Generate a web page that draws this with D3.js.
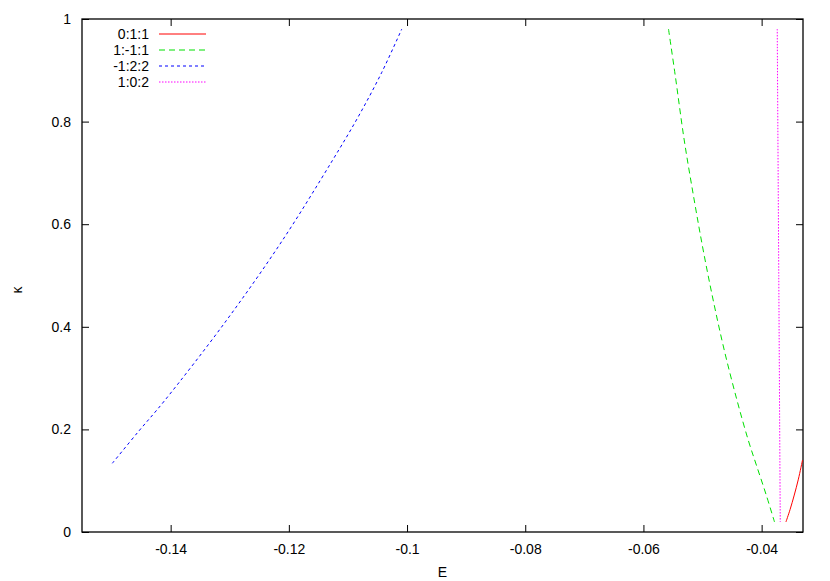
<!DOCTYPE html>
<html>
<head>
    <script src="https://d3js.org/d3.v7.min.js"></script>
    <style>
        body { margin: 0; background: #fff; }
        text { font-family: "Liberation Sans", Arial, sans-serif; }
    </style>
</head>
<body>
    <svg width="830" height="581"></svg>

    <script>
        // Series: E values and kappa values
        const names = ["0:1:1", "1:-1:1", "-1:2:2", "1:0:2"];
        const colors = ["#ff0000", "#00e000", "#0000ff", "#ff00ff"];
        const dashes = ["none", "6,4", "3,3", "1.5,1.5"];

        const redE = [-0.03589, -0.03518, -0.03448, -0.03378, -0.03308];
        const redK = [0.0195, 0.0440, 0.0720, 0.1030, 0.1404];

        const greenE = [-0.05576, -0.05463, -0.05310, -0.05141, -0.04989, -0.04820,
                        -0.04633, -0.04418, -0.04227, -0.04080, -0.03922, -0.03782];
        const greenK = [0.9805, 0.8908, 0.7641, 0.6472, 0.5497, 0.4522,
                        0.3548, 0.2573, 0.1793, 0.1273, 0.0721, 0.0195];

        const blueE = [-0.14987, -0.14552, -0.14107, -0.13063, -0.12115, -0.11268,
                       -0.10828, -0.10427, -0.10089];
        const blueK = [0.1339, 0.1949, 0.2554, 0.4113, 0.5673, 0.7232,
                       0.8090, 0.8961, 0.9805];

        const pinkE = [-0.03736, -0.03710, -0.03685];
        const pinkK = [0.9805, 0.5, 0.0195];

        const xTicks = [-0.14, -0.12, -0.1, -0.08, -0.06, -0.04];
        const yTicks = [0, 0.2, 0.4, 0.6, 0.8, 1];

        const series = [
            { E: redE, K: redK },
            { E: greenE, K: greenK },
            { E: blueE, K: blueK },
            { E: pinkE, K: pinkK }
        ];

        const svg = d3.select("svg");
        const mLeft = 82, mRight = 803, mTop = 19, mBottom = 532;

        const x = d3.scaleLinear().domain([-0.155, -0.033]).range([mLeft, mRight]);
        const y = d3.scaleLinear().domain([0, 1]).range([mBottom, mTop]);

        const tickLen = 7;
        const fontSize = 14;

        // clip for curves
        svg.append("clipPath").attr("id", "plot")
            .append("rect")
            .attr("x", mLeft).attr("y", mTop)
            .attr("width", mRight - mLeft).attr("height", mBottom - mTop);

        // ticks on all four sides
        const xAxisB = d3.axisBottom(x).tickValues(xTicks).tickSize(-tickLen).tickPadding(12)
            .tickFormat(d => String(+d.toFixed(2)));
        const gB = svg.append("g").attr("transform", `translate(0,${mBottom})`).call(xAxisB);
        const xAxisT = d3.axisTop(x).tickValues(xTicks).tickSize(-tickLen).tickFormat("");
        const gT = svg.append("g").attr("transform", `translate(0,${mTop})`).call(xAxisT);

        const yAxisL = d3.axisLeft(y).tickValues(yTicks).tickSize(-tickLen).tickPadding(11)
            .tickFormat(d => String(+d.toFixed(1)));
        const gL = svg.append("g").attr("transform", `translate(${mLeft},0)`).call(yAxisL);
        const yAxisR = d3.axisRight(y).tickValues(yTicks).tickSize(-tickLen).tickFormat("");
        const gR = svg.append("g").attr("transform", `translate(${mRight},0)`).call(yAxisR);

        [gB, gT, gL, gR].forEach(g => {
            g.select(".domain").remove();
            g.selectAll(".tick line").attr("stroke", "#000").attr("stroke-width", 1);
            g.selectAll("text")
                .attr("font-size", fontSize)
                .attr("font-family", "Liberation Sans, Arial, sans-serif")
                .attr("fill", "#000");
        });

        // frame
        svg.append("rect")
            .attr("x", mLeft).attr("y", mTop)
            .attr("width", mRight - mLeft).attr("height", mBottom - mTop)
            .attr("fill", "none").attr("stroke", "#000").attr("stroke-width", 1.3);

        // axis labels
        svg.append("text")
            .attr("x", (mLeft + mRight) / 2).attr("y", 577)
            .attr("text-anchor", "middle")
            .attr("font-size", fontSize)
            .text("E");
        svg.append("text")
            .attr("transform", "translate(22,290) rotate(-90)")
            .attr("text-anchor", "middle")
            .attr("font-size", fontSize)
            .text("κ");

        // curves
        const line = d3.line().x(d => x(d[0])).y(d => y(d[1])).curve(d3.curveCatmullRom);
        const plot = svg.append("g").attr("clip-path", "url(#plot)");
        series.forEach((s, i) => {
            const pts = s.E.map((e, j) => [e, s.K[j]]);
            plot.append("path")
                .datum(pts)
                .attr("d", line)
                .attr("fill", "none")
                .attr("stroke", colors[i])
                .attr("stroke-width", 1)
                .attr("stroke-dasharray", dashes[i]);
        });

        // legend
        const legend = svg.append("g");
        names.forEach((n, i) => {
            const ly = 34 + i * 16;
            legend.append("text")
                .attr("x", 149).attr("y", ly)
                .attr("dy", "0.35em")
                .attr("text-anchor", "end")
                .attr("font-size", fontSize)
                .text(n);
            legend.append("line")
                .attr("x1", 159).attr("x2", 206)
                .attr("y1", ly).attr("y2", ly)
                .attr("stroke", colors[i])
                .attr("stroke-width", 1)
                .attr("stroke-dasharray", dashes[i]);
        });
    </script>
</body>
</html>
